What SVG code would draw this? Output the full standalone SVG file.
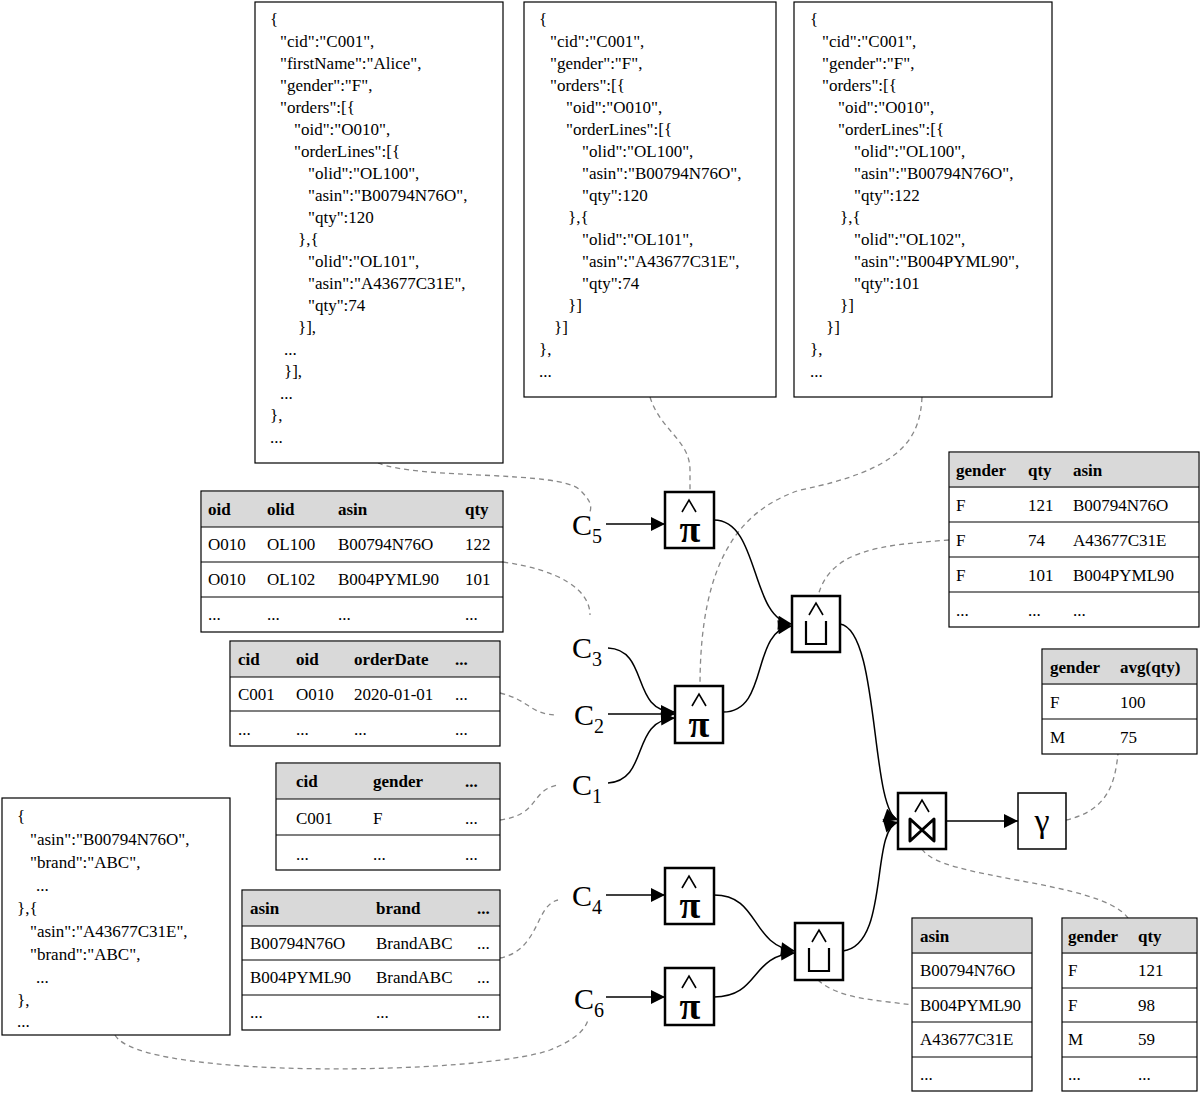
<svg xmlns="http://www.w3.org/2000/svg" width="1200" height="1093" viewBox="0 0 1200 1093">
<style>
text{font-family:"Liberation Serif",serif;font-size:17px;fill:#000}
.b{font-weight:bold}
.box{fill:#fff;stroke:#000;stroke-width:1.2}
.hd{fill:#d9d9d9}
.ln{stroke:#000;stroke-width:1.2}
.op{fill:#fff;stroke:#000;stroke-width:2.5}
.ot{font-size:38px;font-weight:bold;text-anchor:middle}
.hat{fill:none;stroke:#000;stroke-width:1.6}
.c{font-size:30px}
.cs{font-size:20px}
.e{fill:none;stroke:#000;stroke-width:1.5}
.d{fill:none;stroke:#888;stroke-width:1.3;stroke-dasharray:5 4}
</style>
<defs><marker id="a" viewBox="0 0 10 10" refX="10" refY="5" markerWidth="15" markerHeight="14" orient="auto" markerUnits="userSpaceOnUse"><path d="M0,0L10,5L0,10z" fill="#000"/></marker></defs>

<g id="connectors">
<path class="d" d="M378,463 C420,480 560,470 580,490 C590,500 592,505 590,512"/>
<path class="d" d="M650,397 C660,430 690,440 690,470 L690,492"/>
<path class="d" d="M922,397 C920,440 900,470 800,490 C740,510 700,560 700,686"/>
<path class="d" d="M949,540 C880,545 830,550 818,596"/>
<path class="d" d="M503,562 C560,570 590,590 590,615"/>
<path class="d" d="M500,693 C530,700 530,715 558,715"/>
<path class="d" d="M500,820 C540,815 530,790 558,785"/>
<path class="d" d="M500,958 C540,950 535,905 558,900"/>
<path class="d" d="M1066,820 C1110,810 1115,780 1118,754"/>
<path class="d" d="M922,849 C940,880 1100,880 1128,918"/>
<path class="d" d="M818,980 C840,1000 880,1000 912,1005"/>
<path class="d" d="M115,1035 C140,1080 480,1075 550,1050 C575,1040 585,1030 588,1020"/>
<path class="e" d="M606,524 L665,524" marker-end="url(#a)"/>
<path class="e" d="M608,648 C650,650 630,712 675,712" marker-end="url(#a)"/>
<path class="e" d="M608,714 L675,714" marker-end="url(#a)"/>
<path class="e" d="M608,783 C650,780 630,720 675,718" marker-end="url(#a)"/>
<path class="e" d="M714,520 C760,520 750,620 792,624" marker-end="url(#a)"/>
<path class="e" d="M723,712 C770,712 750,630 792,626" marker-end="url(#a)"/>
<path class="e" d="M840,624 C880,630 870,810 898,820" marker-end="url(#a)"/>
<path class="e" d="M946,821 L1018,821" marker-end="url(#a)"/>
<path class="e" d="M606,895 L665,895" marker-end="url(#a)"/>
<path class="e" d="M606,997 L665,997" marker-end="url(#a)"/>
<path class="e" d="M714,895 C760,895 750,945 795,951" marker-end="url(#a)"/>
<path class="e" d="M714,997 C760,997 750,955 795,953" marker-end="url(#a)"/>
<path class="e" d="M843,951 C890,945 870,830 898,822" marker-end="url(#a)"/>
</g>

<g id="json1"><rect class="box" x="255" y="2" width="248" height="461"/>
<text x="270" y="25">{</text><text x="280" y="47">"cid":"C001",</text><text x="280" y="69">"firstName":"Alice",</text><text x="280" y="91">"gender":"F",</text><text x="280" y="113">"orders":[{</text><text x="294" y="135">"oid":"O010",</text><text x="294" y="157">"orderLines":[{</text><text x="308" y="179">"olid":"OL100",</text><text x="308" y="201">"asin":"B00794N76O",</text><text x="308" y="223">"qty":120</text><text x="298" y="245">},{</text><text x="308" y="267">"olid":"OL101",</text><text x="308" y="289">"asin":"A43677C31E",</text><text x="308" y="311">"qty":74</text><text x="298" y="333">}],</text><text x="284" y="355">...</text><text x="284" y="377">}],</text><text x="280" y="399">...</text><text x="270" y="421">},</text><text x="270" y="443">...</text></g>

<g id="json2"><rect class="box" x="524" y="2" width="252" height="395"/>
<text x="539" y="25">{</text><text x="550" y="47">"cid":"C001",</text><text x="550" y="69">"gender":"F",</text><text x="550" y="91">"orders":[{</text><text x="566" y="113">"oid":"O010",</text><text x="566" y="135">"orderLines":[{</text><text x="582" y="157">"olid":"OL100",</text><text x="582" y="179">"asin":"B00794N76O",</text><text x="582" y="201">"qty":120</text><text x="568" y="223">},{</text><text x="582" y="245">"olid":"OL101",</text><text x="582" y="267">"asin":"A43677C31E",</text><text x="582" y="289">"qty":74</text><text x="568" y="311">}]</text><text x="554" y="333">}]</text><text x="539" y="355">},</text><text x="539" y="377">...</text></g>

<g id="json3"><rect class="box" x="794" y="2" width="258" height="395"/>
<text x="810" y="25">{</text><text x="822" y="47">"cid":"C001",</text><text x="822" y="69">"gender":"F",</text><text x="822" y="91">"orders":[{</text><text x="838" y="113">"oid":"O010",</text><text x="838" y="135">"orderLines":[{</text><text x="854" y="157">"olid":"OL100",</text><text x="854" y="179">"asin":"B00794N76O",</text><text x="854" y="201">"qty":122</text><text x="840" y="223">},{</text><text x="854" y="245">"olid":"OL102",</text><text x="854" y="267">"asin":"B004PYML90",</text><text x="854" y="289">"qty":101</text><text x="840" y="311">}]</text><text x="826" y="333">}]</text><text x="810" y="355">},</text><text x="810" y="377">...</text></g>

<g id="json4"><rect class="box" x="2" y="798" width="228" height="237"/>
<text x="17" y="822">{</text><text x="30" y="845">"asin":"B00794N76O",</text><text x="30" y="868">"brand":"ABC",</text><text x="36" y="891">...</text><text x="17" y="914">},{</text><text x="30" y="937">"asin":"A43677C31E",</text><text x="30" y="960">"brand":"ABC",</text><text x="36" y="983">...</text><text x="17" y="1006">},</text><text x="17" y="1027">...</text></g>

<g id="t_orderlines"><rect class="box" x="201" y="491" width="302" height="141"/><rect class="hd" x="202" y="492" width="300" height="35"/>
<line class="ln" x1="201" y1="527" x2="503" y2="527"/><line class="ln" x1="201" y1="562" x2="503" y2="562"/><line class="ln" x1="201" y1="597" x2="503" y2="597"/>
<text class="b" x="208" y="515">oid</text><text class="b" x="267" y="515">olid</text><text class="b" x="338" y="515">asin</text><text class="b" x="465" y="515">qty</text>
<text x="208" y="550">O010</text><text x="267" y="550">OL100</text><text x="338" y="550">B00794N76O</text><text x="465" y="550">122</text>
<text x="208" y="585">O010</text><text x="267" y="585">OL102</text><text x="338" y="585">B004PYML90</text><text x="465" y="585">101</text>
<text x="208" y="620">...</text><text x="267" y="620">...</text><text x="338" y="620">...</text><text x="465" y="620">...</text></g>

<g id="t_orders"><rect class="box" x="230" y="641" width="270" height="105"/><rect class="hd" x="231" y="642" width="268" height="35"/>
<line class="ln" x1="230" y1="677" x2="500" y2="677"/><line class="ln" x1="230" y1="711" x2="500" y2="711"/>
<text class="b" x="238" y="665">cid</text><text class="b" x="296" y="665">oid</text><text class="b" x="354" y="665">orderDate</text><text class="b" x="455" y="665">...</text>
<text x="238" y="700">C001</text><text x="296" y="700">O010</text><text x="354" y="700">2020-01-01</text><text x="455" y="700">...</text>
<text x="238" y="735">...</text><text x="296" y="735">...</text><text x="354" y="735">...</text><text x="455" y="735">...</text></g>

<g id="t_customers"><rect class="box" x="276" y="763" width="224" height="107"/><rect class="hd" x="277" y="764" width="222" height="35"/>
<line class="ln" x1="276" y1="799" x2="500" y2="799"/><line class="ln" x1="276" y1="835" x2="500" y2="835"/>
<text class="b" x="296" y="787">cid</text><text class="b" x="373" y="787">gender</text><text class="b" x="465" y="787">...</text>
<text x="296" y="824">C001</text><text x="373" y="824">F</text><text x="465" y="824">...</text>
<text x="296" y="860">...</text><text x="373" y="860">...</text><text x="465" y="860">...</text></g>

<g id="t_products"><rect class="box" x="242" y="890" width="258" height="140"/><rect class="hd" x="243" y="891" width="256" height="35"/>
<line class="ln" x1="242" y1="926" x2="500" y2="926"/><line class="ln" x1="242" y1="960" x2="500" y2="960"/><line class="ln" x1="242" y1="995" x2="500" y2="995"/>
<text class="b" x="250" y="914">asin</text><text class="b" x="376" y="914">brand</text><text class="b" x="477" y="914">...</text>
<text x="250" y="949">B00794N76O</text><text x="376" y="949">BrandABC</text><text x="477" y="949">...</text>
<text x="250" y="983">B004PYML90</text><text x="376" y="983">BrandABC</text><text x="477" y="983">...</text>
<text x="250" y="1018">...</text><text x="376" y="1018">...</text><text x="477" y="1018">...</text></g>

<g id="t_union"><rect class="box" x="949" y="452" width="250" height="175"/><rect class="hd" x="950" y="453" width="248" height="35"/>
<line class="ln" x1="949" y1="487" x2="1199" y2="487"/><line class="ln" x1="949" y1="522" x2="1199" y2="522"/><line class="ln" x1="949" y1="557" x2="1199" y2="557"/><line class="ln" x1="949" y1="592" x2="1199" y2="592"/>
<text class="b" x="956" y="476">gender</text><text class="b" x="1028" y="476">qty</text><text class="b" x="1073" y="476">asin</text>
<text x="956" y="511">F</text><text x="1028" y="511">121</text><text x="1073" y="511">B00794N76O</text>
<text x="956" y="546">F</text><text x="1028" y="546">74</text><text x="1073" y="546">A43677C31E</text>
<text x="956" y="581">F</text><text x="1028" y="581">101</text><text x="1073" y="581">B004PYML90</text>
<text x="956" y="616">...</text><text x="1028" y="616">...</text><text x="1073" y="616">...</text></g>

<g id="t_avg"><rect class="box" x="1042" y="649" width="155" height="105"/><rect class="hd" x="1043" y="650" width="153" height="35"/>
<line class="ln" x1="1042" y1="684" x2="1197" y2="684"/><line class="ln" x1="1042" y1="719" x2="1197" y2="719"/>
<text class="b" x="1050" y="673">gender</text><text class="b" x="1120" y="673">avg(qty)</text>
<text x="1050" y="708">F</text><text x="1120" y="708">100</text>
<text x="1050" y="743">M</text><text x="1120" y="743">75</text></g>

<g id="t_asin"><rect class="box" x="912" y="918" width="120" height="173"/><rect class="hd" x="913" y="919" width="118" height="35"/>
<line class="ln" x1="912" y1="953" x2="1032" y2="953"/><line class="ln" x1="912" y1="988" x2="1032" y2="988"/><line class="ln" x1="912" y1="1022" x2="1032" y2="1022"/><line class="ln" x1="912" y1="1057" x2="1032" y2="1057"/>
<text class="b" x="920" y="942">asin</text><text x="920" y="976">B00794N76O</text><text x="920" y="1011">B004PYML90</text><text x="920" y="1045">A43677C31E</text><text x="920" y="1080">...</text></g>

<g id="t_join"><rect class="box" x="1062" y="918" width="135" height="173"/><rect class="hd" x="1063" y="919" width="133" height="35"/>
<line class="ln" x1="1062" y1="953" x2="1197" y2="953"/><line class="ln" x1="1062" y1="988" x2="1197" y2="988"/><line class="ln" x1="1062" y1="1022" x2="1197" y2="1022"/><line class="ln" x1="1062" y1="1057" x2="1197" y2="1057"/>
<text class="b" x="1068" y="942">gender</text><text class="b" x="1138" y="942">qty</text>
<text x="1068" y="976">F</text><text x="1138" y="976">121</text><text x="1068" y="1011">F</text><text x="1138" y="1011">98</text>
<text x="1068" y="1045">M</text><text x="1138" y="1045">59</text><text x="1068" y="1080">...</text><text x="1138" y="1080">...</text></g>

<g id="c5"><text class="c" x="572" y="535">C<tspan class="cs" dy="8">5</tspan></text></g>
<g id="c3"><text class="c" x="572" y="658">C<tspan class="cs" dy="8">3</tspan></text></g>
<g id="c2"><text class="c" x="574" y="725">C<tspan class="cs" dy="8">2</tspan></text></g>
<g id="c1"><text class="c" x="572" y="795">C<tspan class="cs" dy="8">1</tspan></text></g>
<g id="c4"><text class="c" x="572" y="906">C<tspan class="cs" dy="8">4</tspan></text></g>
<g id="c6"><text class="c" x="574" y="1009">C<tspan class="cs" dy="8">6</tspan></text></g>

<g id="pi1"><rect class="op" x="665" y="492" width="49" height="56"/><path class="hat" d="M682,512 L689,500 L696,512"/><text class="ot" x="690" y="542">π</text></g>
<g id="pi2"><rect class="op" x="675" y="686" width="48" height="57"/><path class="hat" d="M692,706 L699,694 L706,706"/><text class="ot" x="699" y="737">π</text></g>
<g id="union1"><rect class="op" x="792" y="596" width="48" height="56"/><path class="hat" d="M809,615 L816,603 L823,615"/><path class="hat" d="M806,621 L806,644 L826,644 L826,621" style="stroke-width:2.2"/></g>
<g id="join"><rect class="op" x="898" y="793" width="48" height="56"/><path class="hat" d="M915,812 L922,800 L929,812"/><path d="M910,819 L934,841 L934,819 L910,841 Z" fill="none" stroke="#000" stroke-width="3" stroke-linejoin="round"/></g>
<g id="gamma"><rect class="op" x="1018" y="793" width="48" height="56" style="stroke-width:1.5"/><text x="1042" y="832" style="font-size:34px;text-anchor:middle">γ</text></g>
<g id="pi3"><rect class="op" x="665" y="868" width="49" height="56"/><path class="hat" d="M682,888 L689,876 L696,888"/><text class="ot" x="690" y="918">π</text></g>
<g id="pi4"><rect class="op" x="665" y="968" width="49" height="57"/><path class="hat" d="M682,988 L689,976 L696,988"/><text class="ot" x="690" y="1019">π</text></g>
<g id="union2"><rect class="op" x="795" y="923" width="48" height="57"/><path class="hat" d="M812,942 L819,930 L826,942"/><path class="hat" d="M809,948 L809,971 L829,971 L829,948" style="stroke-width:2.2"/></g>
</svg>
